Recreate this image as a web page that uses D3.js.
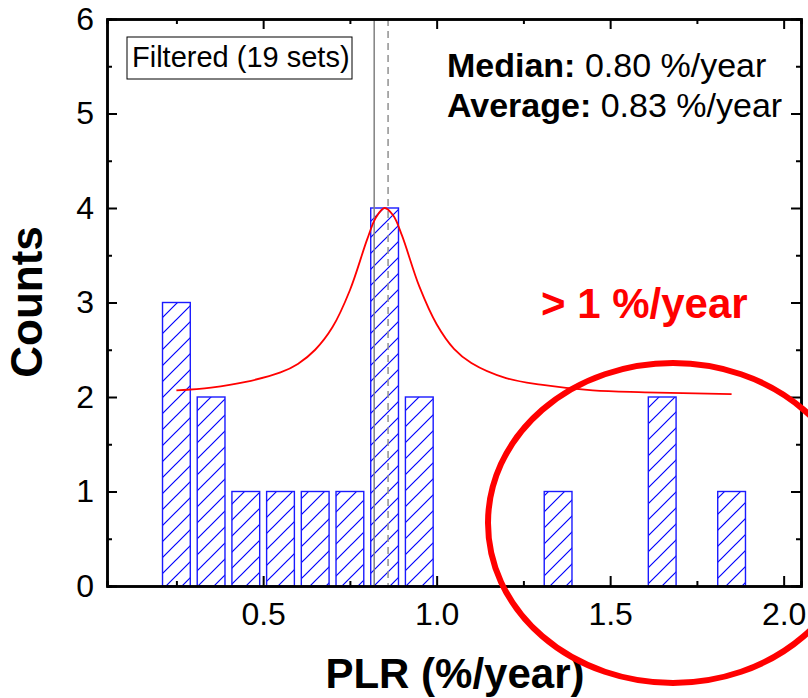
<!DOCTYPE html>
<html>
<head>
<meta charset="UTF-8">
<title>PLR histogram</title>
<style>
  body { margin: 0; background: #ffffff; }
  svg { display: block; }
  text { font-family: "Liberation Sans", Arial, sans-serif; }
</style>
</head>
<body>
<svg></svg>
<script src="https://d3js.org/d3.v7.min.js"></script>
<script>

let width = 808, height = 698;

// histogram bins (centre of each 0.1 bin) and counts
let binCenters = [0.25, 0.35, 0.45, 0.55, 0.65, 0.75, 0.85, 0.95, 1.35, 1.65, 1.85];
let binCounts  = [3, 2, 1, 1, 1, 1, 4, 2, 1, 2, 1];

// fitted peak curve
let fitX = [0.25, 0.35, 0.45, 0.55, 0.60, 0.65, 0.70, 0.75, 0.80, 0.825, 0.85, 0.875, 0.90, 0.95, 1.00, 1.05, 1.10, 1.20, 1.30, 1.45, 1.60, 1.85];
let fitY = [2.07, 2.10, 2.16, 2.26, 2.35, 2.50, 2.74, 3.13, 3.67, 3.90, 4.00, 3.92, 3.71, 3.17, 2.77, 2.51, 2.36, 2.20, 2.13, 2.07, 2.05, 2.03];

// median / average markers
let medianX = 0.82, averageX = 0.86;

let xMajor = [0.5, 1.0, 1.5, 2.0];
let xMinor = [0.25, 0.75, 1.25, 1.75];
let yMajor = [0, 1, 2, 3, 4, 5, 6];
let yMinor = [0.5, 1.5, 2.5, 3.5, 4.5, 5.5];

let legendText = "Filtered (19 sets)";
let statLabels = ["Median:", "Average:"];
let statValues = ["0.80 %/year", "0.83 %/year"];
let noteText = "> 1 %/year";

let svg = d3.select("svg")
    .attr("width", width)
    .attr("height", height);

let plotL = 107, plotR = 801, plotT = 19, plotB = 586;

let x = d3.scaleLinear().domain([0.05, 2.05]).range([plotL, plotR]);
let y = d3.scaleLinear().domain([0, 6]).range([plotB, plotT]);

// hatch fill for the bars
let defs = svg.append("defs");
let pat = defs.append("pattern")
    .attr("id", "hatch")
    .attr("patternUnits", "userSpaceOnUse")
    .attr("width", 16)
    .attr("height", 16);
pat.append("path")
    .attr("d", "M0,16 L16,0 M-4,4 L4,-4 M12,20 L20,12")
    .attr("stroke", "#0000ff")
    .attr("stroke-width", 1.2);

let binW = 0.08;

svg.append("g")
    .selectAll("rect")
    .data(binCenters)
    .enter()
    .append("rect")
        .attr("x", (d) => x(d - binW / 2))
        .attr("width", (d) => x(d + binW / 2) - x(d - binW / 2))
        .attr("y", (d, i) => y(binCounts[i]))
        .attr("height", (d, i) => y(0) - y(binCounts[i]))
        .attr("fill", "url(#hatch)")
        .attr("stroke", "#1a1aff")
        .attr("stroke-width", 1.4);

// median (solid) and average (dashed) lines
svg.append("line")
    .attr("x1", x(medianX)).attr("x2", x(medianX))
    .attr("y1", y(6)).attr("y2", y(0))
    .attr("stroke", "#808080")
    .attr("stroke-width", 1.5);
svg.append("line")
    .attr("x1", x(averageX)).attr("x2", x(averageX))
    .attr("y1", y(6)).attr("y2", y(0))
    .attr("stroke", "#909090")
    .attr("stroke-width", 1.5)
    .attr("stroke-dasharray", "7,5");

// fit curve
let line = d3.line()
    .x((d, i) => x(fitX[i]))
    .y((d) => y(d))
    .curve(d3.curveCatmullRom);

svg.append("path")
    .attr("d", line(fitY))
    .attr("fill", "none")
    .attr("stroke", "#ff0000")
    .attr("stroke-width", 1.8);

// axes, ticks pointing inward
function styleAxis(g) {
    g.select(".domain").attr("stroke", "#000").attr("stroke-width", 2.5);
    g.selectAll(".tick line").attr("stroke", "#000").attr("stroke-width", 2);
    g.selectAll(".tick text")
        .attr("fill", "#000")
        .style("font-size", "32px")
        .style("font-family", "'Liberation Sans', Arial, sans-serif");
}

svg.append("g")
    .attr("transform", "translate(0," + plotB + ")")
    .call(d3.axisBottom(x).tickValues(xMinor).tickSize(-5).tickFormat(""))
    .call(styleAxis);
svg.append("g")
    .attr("transform", "translate(0," + plotB + ")")
    .call(d3.axisBottom(x).tickValues(xMajor).tickSize(-10).tickSizeOuter(0)
        .tickPadding(16).tickFormat(d3.format(".1f")))
    .call(styleAxis);

svg.append("g")
    .attr("transform", "translate(0," + plotT + ")")
    .call(d3.axisTop(x).tickValues(xMinor).tickSize(-5).tickFormat(""))
    .call(styleAxis);
svg.append("g")
    .attr("transform", "translate(0," + plotT + ")")
    .call(d3.axisTop(x).tickValues(xMajor).tickSize(-10).tickSizeOuter(0).tickFormat(""))
    .call(styleAxis);

svg.append("g")
    .attr("transform", "translate(" + plotL + ",0)")
    .call(d3.axisLeft(y).tickValues(yMinor).tickSize(-5).tickFormat(""))
    .call(styleAxis);
svg.append("g")
    .attr("transform", "translate(" + plotL + ",0)")
    .call(d3.axisLeft(y).tickValues(yMajor).tickSize(-10).tickSizeOuter(0)
        .tickPadding(13).tickFormat(d3.format("d")))
    .call(styleAxis);

svg.append("g")
    .attr("transform", "translate(" + plotR + ",0)")
    .call(d3.axisRight(y).tickValues(yMinor).tickSize(-5).tickFormat(""))
    .call(styleAxis);
svg.append("g")
    .attr("transform", "translate(" + plotR + ",0)")
    .call(d3.axisRight(y).tickValues(yMajor).tickSize(-10).tickSizeOuter(0).tickFormat(""))
    .call(styleAxis);

// axis titles
svg.append("text")
    .attr("x", 455)
    .attr("y", 688)
    .attr("text-anchor", "middle")
    .style("font-size", "42px")
    .style("font-weight", "bold")
    .text("PLR (%/year)");

svg.append("text")
    .attr("transform", "translate(42,302) rotate(-90)")
    .attr("text-anchor", "middle")
    .style("font-size", "44px")
    .style("font-weight", "bold")
    .text("Counts");

// legend box
svg.append("rect")
    .attr("x", 127).attr("y", 37)
    .attr("width", 225).attr("height", 42)
    .attr("fill", "#fff")
    .attr("stroke", "#000")
    .attr("stroke-width", 1);
svg.append("text")
    .attr("x", 132).attr("y", 67)
    .style("font-size", "29px")
    .text(legendText);

// median / average text
let stats = svg.append("g");
statLabels.forEach((lab, i) => {
    let t = stats.append("text")
        .attr("x", 447)
        .attr("y", 77 + i * 40)
        .style("font-size", "34px");
    t.append("tspan").style("font-weight", "bold").text(lab);
    t.append("tspan").text(" " + statValues[i]);
});

// red annotation
svg.append("text")
    .attr("x", 541).attr("y", 318)
    .attr("fill", "#ff0000")
    .style("font-size", "42px")
    .style("font-weight", "bold")
    .text(noteText);

svg.append("ellipse")
    .attr("cx", 673).attr("cy", 523)
    .attr("rx", 185).attr("ry", 160)
    .attr("fill", "none")
    .attr("stroke", "#ff0000")
    .attr("stroke-width", 6);

</script>
</body>
</html>
